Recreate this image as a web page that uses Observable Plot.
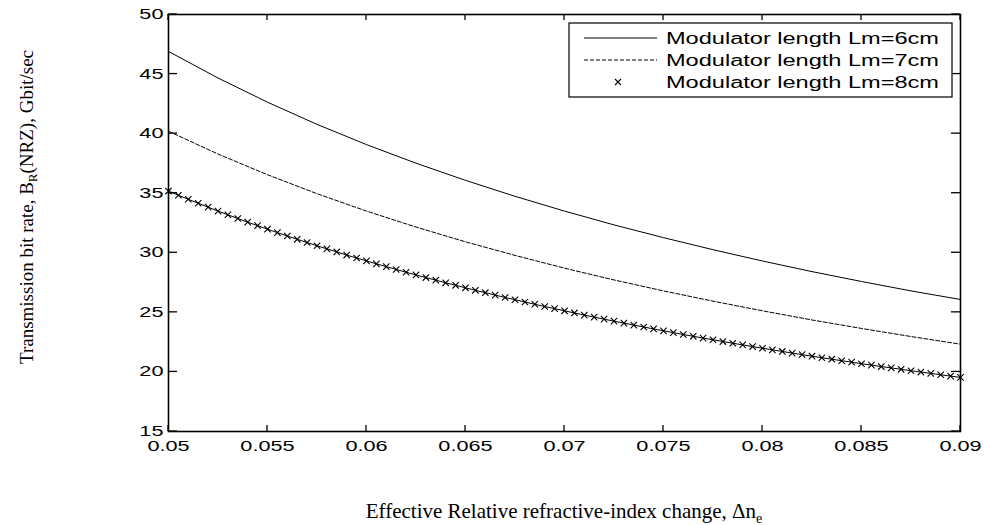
<!DOCTYPE html>
<html><head><meta charset="utf-8">
<script src="https://cdn.jsdelivr.net/npm/d3@7"></script>
<script src="https://cdn.jsdelivr.net/npm/@observablehq/plot@0.6"></script>
<style>body{margin:0;background:#fff;}</style>
</head><body><div id="chart"></div>
<script>
// Coarse x grid for the two plain lines
const xCoarse = [0.05,0.0525,0.055,0.0575,0.06,0.0625,0.065,0.0675,0.07,0.0725,0.075,0.0775,0.08,0.0825,0.085,0.0875,0.09];
const lm6 = [46.90,44.67,42.64,40.78,39.08,37.52,36.08,34.74,33.50,32.34,31.27,30.26,29.31,28.42,27.59,26.80,26.08];
const lm7 = [40.20,38.29,36.55,34.96,33.50,32.16,30.92,29.78,28.71,27.72,26.80,25.94,25.13,24.36,23.65,22.97,22.33];
// Fine x grid for the marked series
const xFine = [0.05,0.0505,0.051,0.0515,0.052,0.0525,0.053,0.0535,0.054,0.0545,0.055,0.0555,0.056,0.0565,0.057,0.0575,0.058,0.0585,0.059,0.0595,
  0.06,0.0605,0.061,0.0615,0.062,0.0625,0.063,0.0635,0.064,0.0645,0.065,0.0655,0.066,0.0665,0.067,0.0675,0.068,0.0685,0.069,0.0695,
  0.07,0.0705,0.071,0.0715,0.072,0.0725,0.073,0.0735,0.074,0.0745,0.075,0.0755,0.076,0.0765,0.077,0.0775,0.078,0.0785,0.079,0.0795,
  0.08,0.0805,0.081,0.0815,0.082,0.0825,0.083,0.0835,0.084,0.0845,0.085,0.0855,0.086,0.0865,0.087,0.0875,0.088,0.0885,0.089,0.0895,0.09];
const lm8 = [35.18,34.83,34.49,34.16,33.83,33.50,33.19,32.88,32.57,32.28,31.98,31.69,31.41,31.13,30.86,30.59,30.33,30.07,29.81,29.56,
  29.32,29.07,28.84,28.60,28.37,28.14,27.92,27.70,27.48,27.27,27.06,26.85,26.65,26.45,26.25,26.06,25.87,25.68,25.49,25.31,
  25.13,24.95,24.77,24.60,24.43,24.26,24.10,23.93,23.77,23.61,23.45,23.30,23.14,22.99,22.84,22.70,22.55,22.41,22.27,22.13,
  21.99,21.85,21.72,21.58,21.45,21.32,21.19,21.07,20.94,20.82,20.69,20.57,20.45,20.34,20.22,20.10,19.99,19.88,19.76,19.65,19.54];
const xTicks = [0.05,0.055,0.06,0.065,0.07,0.075,0.08,0.085,0.09];
const xTickLabels = ["0.05","0.055","0.06","0.065","0.07","0.075","0.08","0.085","0.09"];
const yTicks = [15,20,25,30,35,40,45,50];
const seriesNames = ["Modulator length Lm=6cm","Modulator length Lm=7cm","Modulator length Lm=8cm"];
const xLabel = "Effective Relative refractive-index change, \u0394n";
const xLabelSub = "e";
const yLabelA = "Transmission bit rate, B";
const yLabelSub = "R";
const yLabelB = "(NRZ), Gbit/sec";

(function () {
const d6 = xCoarse.map((x,i)=>({x, y:lm6[i]}));
const d7 = xCoarse.map((x,i)=>({x, y:lm7[i]}));
const d8 = xFine.map((x,i)=>({x, y:lm8[i]}));

const W = 984, H = 525, mL = 168, mR = 24, mT = 14, mB = 94;
const xt = 6, yt = 9; // inward tick lengths

const plot = Plot.plot({
  width: W, height: H,
  marginLeft: mL, marginRight: mR, marginTop: mT, marginBottom: mB,
  x: {domain: [0.05, 0.09]},
  y: {domain: [15, 50]},
  style: {fontFamily: "'Liberation Sans', Arial, sans-serif", fontSize: "14px", color: "#000", background: "#fff"},
  marks: [
    Plot.line(d6, {x: "x", y: "y", stroke: "#000", strokeWidth: 1}),
    Plot.line(d7, {x: "x", y: "y", stroke: "#000", strokeWidth: 1, strokeDasharray: "4,2"}),
    Plot.line(d8, {x: "x", y: "y", stroke: "#000", strokeWidth: 1}),
    Plot.dot(d8, {x: "x", y: "y", symbol: "times", r: 3, stroke: "#000", strokeWidth: 1.1}),
    Plot.axisX(xTicks, {anchor: "bottom", tickSize: 0, tickPadding: 10, label: null, tickFormat: d => xTickLabels[xTicks.indexOf(d)]}),
    Plot.axisY(yTicks, {anchor: "left", tickSize: 0, tickPadding: 5, label: null}),
    Plot.frame({stroke: "#000", strokeWidth: 1.6})
  ]
});
document.getElementById("chart").appendChild(plot);

const svg = d3.select(plot);
const sx = plot.scale("x"), sy = plot.scale("y");

// inward ticks on all four sides, positioned with Plot's own scales
const tg = svg.append("g").attr("stroke", "#000").attr("stroke-width", 1.3);
const fTop = mT, fBottom = H - mB, fLeft = mL, fRight = W - mR;
xTicks.forEach(v => {
  const px = sx.apply(v);
  tg.append("line").attr("x1", px).attr("x2", px).attr("y1", fBottom).attr("y2", fBottom - xt);
  tg.append("line").attr("x1", px).attr("x2", px).attr("y1", fTop).attr("y2", fTop + xt);
});
yTicks.forEach(v => {
  const py = sy.apply(v);
  tg.append("line").attr("y1", py).attr("y2", py).attr("x1", fLeft).attr("x2", fLeft + yt);
  tg.append("line").attr("y1", py).attr("y2", py).attr("x1", fRight).attr("x2", fRight - yt);
});

// stretch tick labels horizontally like the reference
svg.selectAll('g[aria-label="x-axis tick label"] text, g[aria-label="y-axis tick label"] text').each(function() {
  const t = d3.select(this);
  const tr = t.attr("transform");
  if (tr) t.attr("transform", tr + " scale(1.55,1)");
  else {
    const x = +t.attr("x") || 0, y = +t.attr("y") || 0;
    t.attr("x", null).attr("y", null).attr("transform", `translate(${x},${y}) scale(1.55,1)`);
  }
});

// axis titles
const serif = "'Liberation Serif', 'Times New Roman', serif";
const xl = svg.append("text").attr("x", 564).attr("y", 518).attr("text-anchor", "middle")
  .attr("font-family", serif).attr("font-size", 21).attr("fill", "#000");
xl.append("tspan").text(xLabel);
xl.append("tspan").attr("dy", 5).attr("font-size", 14).text(xLabelSub);

const yl = svg.append("text").attr("transform", "translate(33,207) rotate(-90)").attr("text-anchor", "middle")
  .attr("font-family", serif).attr("font-size", 19).attr("fill", "#000");
yl.append("tspan").text(yLabelA);
yl.append("tspan").attr("dy", 4).attr("font-size", 13).text(yLabelSub);
yl.append("tspan").attr("dy", -4).text(yLabelB);

// legend
const lg = svg.append("g");
lg.append("rect").attr("x", 569).attr("y", 23).attr("width", 383).attr("height", 74)
  .attr("fill", "#fff").attr("stroke", "#000").attr("stroke-width", 1.2);
const rows = [38, 60, 82];
seriesNames.forEach((name, i) => {
  const y = rows[i];
  if (i < 2) {
    lg.append("line").attr("x1", 584).attr("x2", 657).attr("y1", y).attr("y2", y)
      .attr("stroke", "#000").attr("stroke-width", 1).attr("stroke-dasharray", i === 1 ? "4,2" : null);
  } else {
    lg.append("path").attr("d", `M${618-3},${y-3}L${618+3},${y+3}M${618-3},${y+3}L${618+3},${y-3}`)
      .attr("stroke", "#000").attr("stroke-width", 1.1);
  }
  lg.append("text").attr("x", 666).attr("y", y).attr("dy", "0.35em").attr("text-anchor", "start")
    .attr("font-family", "'Liberation Sans', Arial, sans-serif").attr("font-size", 16)
    .attr("textLength", 273).attr("lengthAdjust", "spacingAndGlyphs").attr("fill", "#000").text(name);
});
})();
</script>
</body></html>
